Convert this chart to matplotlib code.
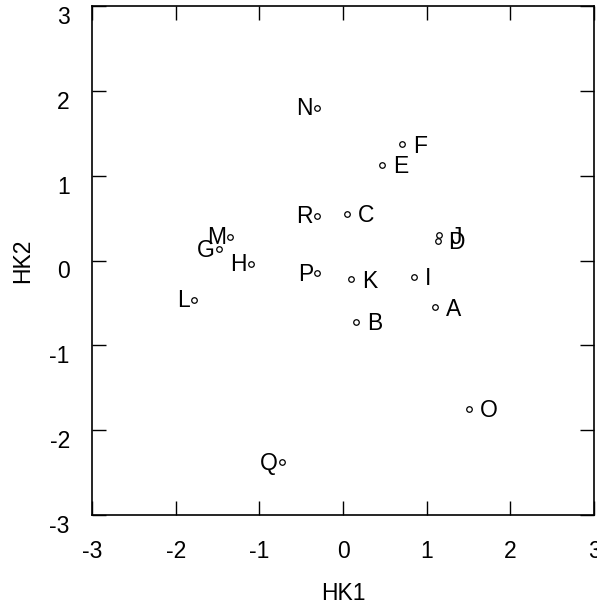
import matplotlib
matplotlib.use("Agg")
import matplotlib.pyplot as plt
import matplotlib.transforms as mtransforms

plt.rcParams['font.family'] = ['Liberation Sans', 'DejaVu Sans']
plt.rcParams['axes.unicode_minus'] = False

# Scores on the first two components
names = ['A', 'B', 'C', 'D', 'E', 'F', 'G', 'H', 'I', 'J',
         'K', 'L', 'M', 'N', 'O', 'P', 'Q', 'R']
hk1 = [1.10, 0.16, 0.05, 1.13, 0.47, 0.71, -1.48, -1.10, 0.85, 1.15,
       0.10, -1.78, -1.35, -0.31, 1.50, -0.31, -0.73, -0.31]
hk2 = [-0.55, -0.72, 0.55, 0.23, 1.13, 1.37, 0.13, -0.04, -0.19, 0.30,
       -0.22, -0.46, 0.28, 1.80, -1.75, -0.15, -2.38, 0.53]
# which points get their label on the left
left_side = ['G', 'H', 'L', 'M', 'N', 'P', 'Q', 'R']

fs = 16.5

fig = plt.figure(figsize=(5.97, 6.06), dpi=100)
ax = fig.add_axes([92 / 597, 1 - 515 / 606, 502 / 597, 509 / 606])

ax.plot(hk1, hk2, 'o', ms=4, mfc='white', mec='black', mew=0.9, ls='none')

for n, x, y in zip(names, hk1, hk2):
    if n in left_side:
        ax.annotate(n, (x, y), xytext=(-4, -1), textcoords='offset pixels',
                    ha='right', va='center', fontsize=fs)
    else:
        ax.annotate(n, (x, y), xytext=(11, -2), textcoords='offset pixels',
                    ha='left', va='center', fontsize=fs)

ax.set_xlim(-3, 3)
ax.set_ylim(-3, 3)
ax.set_xticks([-3, -2, -1, 0, 1, 2, 3])
ax.set_yticks([-3, -2, -1, 0, 1, 2, 3])
ax.tick_params(direction='in', length=10, width=1, top=True, right=True,
               labelsize=fs)
ax.tick_params(axis='x', pad=18)
ax.tick_params(axis='y', pad=16)
for s in ax.spines.values():
    s.set_linewidth(1.2)

# y tick labels sit a bit below their ticks
shift = mtransforms.ScaledTranslation(0, -9 / 100, fig.dpi_scale_trans)
for lab in ax.get_yticklabels():
    lab.set_transform(lab.get_transform() + shift)

ax.set_xlabel('HK1', fontsize=fs, labelpad=14)
ax.set_ylabel('HK2', fontsize=fs, labelpad=11)

fig.savefig('out.png', dpi=100)
